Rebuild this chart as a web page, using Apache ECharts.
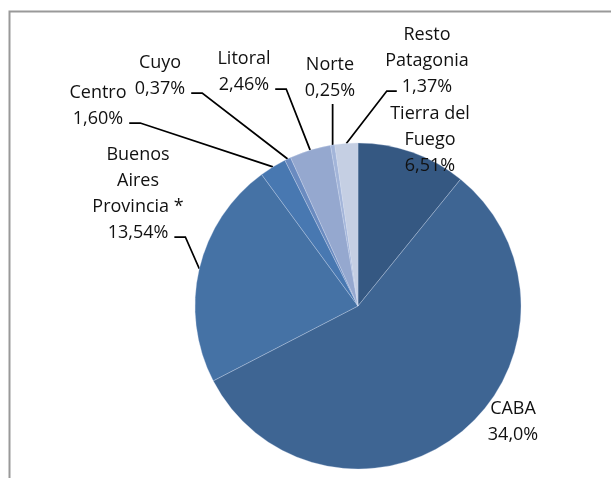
<!DOCTYPE html>
<html>
<head>
<meta charset="utf-8">
<script src="https://cdn.jsdelivr.net/npm/echarts@6/dist/echarts.min.js"></script>
<style>
  html, body { margin: 0; padding: 0; background: #fff; }
  #chart { width: 611px; height: 478px; }
</style>
</head>
<body>
<div id="chart"></div>
<script>
// regiones y participacion (%)
var regiones = ['Tierra del\nFuego', 'CABA', 'Buenos\nAires\nProvincia *', 'Centro', 'Cuyo', 'Litoral', 'Norte', 'Resto\nPatagonia'];
var valores = [6.51, 34.0, 13.54, 1.60, 0.37, 2.46, 0.25, 1.37];
var decimales = [2, 1, 2, 2, 2, 2, 2, 2];
var colores = ['#355882', '#3e6593', '#4572a5', '#4878b1', '#6a8bc0', '#95a8cf', '#a3b5d9', '#c5cfe3'];
var conLinea = [false, false, true, true, true, true, true, true];

// centro de cada bloque de texto
var posEtiqueta = [[430, 140], [513, 422], [138, 194], [98, 106], [160, 76], [244, 72], [330, 78], [427, 61]];

var FONT = 18, LINE_H = 26;
var ctx = document.createElement('canvas').getContext('2d');
ctx.font = FONT + 'px "Open Sans"';

var myChart = echarts.init(document.getElementById('chart'));

var data = regiones.map(function (n, i) {
  return {
    name: n,
    value: valores[i],
    itemStyle: { color: colores[i] },
    labelLine: { show: conLinea[i] }
  };
});

function layoutLabel(p) {
  var i = p.dataIndex;
  var pos = posEtiqueta[i];
  var lines = p.text.split('\n');
  var last = lines[lines.length - 1];
  var w = ctx.measureText(last).width;
  var lastC = pos[1] + (lines.length - 1) / 2 * LINE_H;
  var out = { x: pos[0], y: pos[1], align: 'center', verticalAlign: 'middle' };
  var a = p.labelLinePoints ? p.labelLinePoints[0] : null;
  if (a) {
    var left = pos[0] - w / 2, right = pos[0] + w / 2, ly = lastC + 4;
    if (a[0] > left && a[0] < right) {
      out.labelLinePoints = [a, [a[0], lastC + 13]];
    } else if (a[0] < left) {
      out.labelLinePoints = [a, [left - 15, ly], [left - 5, ly]];
    } else {
      out.labelLinePoints = [a, [right + 17, ly], [right + 6, ly]];
    }
  }
  return out;
}

var option = {
  animation: false,
  graphic: [{
    type: 'rect',
    shape: { x: 9.5, y: 11.5, width: 700, height: 600 },
    style: { fill: 'none', stroke: '#999', lineWidth: 2 },
    silent: true
  }],
  series: [{
    type: 'pie',
    center: [358, 306],
    radius: 163,
    startAngle: 90,
    clockwise: true,
    avoidLabelOverlap: false,
    itemStyle: { borderColor: 'rgba(210,222,242,0.6)', borderWidth: 0.5 },
    label: {
      show: true,
      position: 'outside',
      fontFamily: 'Open Sans',
      fontSize: FONT,
      lineHeight: LINE_H,
      color: '#111',
      formatter: function (p) {
        return p.name + '\n' + valores[p.dataIndex].toFixed(decimales[p.dataIndex]).replace('.', ',') + '%';
      }
    },
    labelLine: { show: true, lineStyle: { color: '#000', width: 1.75 } },
    labelLayout: layoutLabel,
    emphasis: { disabled: true },
    data: data
  }]
};

myChart.setOption(option);
</script>
</body>
</html>
